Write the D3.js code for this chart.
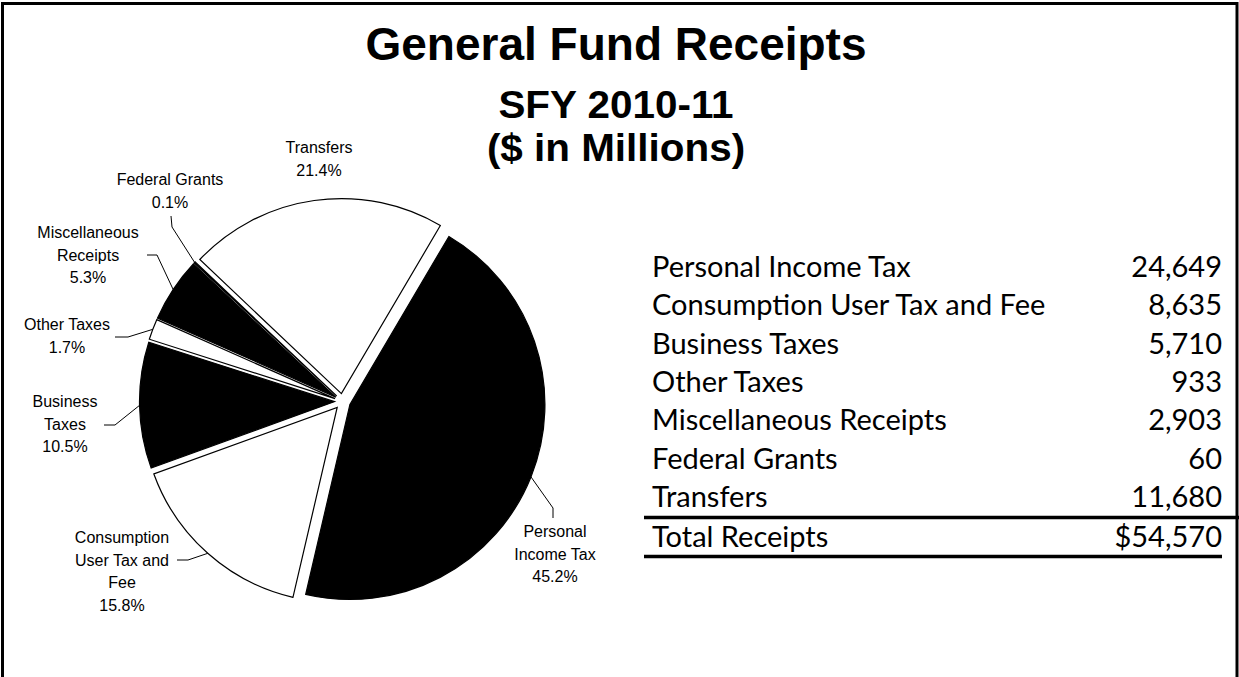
<!DOCTYPE html>
<html>
<head>
<meta charset="utf-8">
<script src="https://cdn.jsdelivr.net/npm/d3@7"></script>
<style>
  html, body { margin: 0; padding: 0; background: #fff; }
  svg { display: block; }
</style>
</head>
<body>
<svg id="chart" width="1239" height="677"></svg>
<script>
// General Fund receipts by source, SFY 2010-11 ($ millions)
const categories = [
  "Personal Income Tax",
  "Consumption User Tax and Fee",
  "Business Taxes",
  "Other Taxes",
  "Miscellaneous Receipts",
  "Federal Grants",
  "Transfers"
];
const values = [24649, 8635, 5710, 933, 2903, 60, 11680];
// Wrapped pie label text for each category
const pieLabelLines = [
  ["Personal", "Income Tax"],
  ["Consumption", "User Tax and", "Fee"],
  ["Business", "Taxes"],
  ["Other Taxes"],
  ["Miscellaneous", "Receipts"],
  ["Federal Grants"],
  ["Transfers"]
];
const sliceFills = ["#000", "#fff", "#000", "#fff", "#000", "#000", "#fff"];
const titleLines = ["General Fund Receipts", "SFY 2010-11", "($ in Millions)"];
const totalLabel = "Total Receipts";

// Label placement: text centre x, first line centre y, and leader elbow/end points
const labelLayout = [
  { x: 555, y: 532, leader: [[553, 508], [553, 518]] },
  { x: 122, y: 538, leader: [[188, 560], [177, 560]] },
  { x: 65,  y: 402, leader: [[115, 425], [104, 425]] },
  { x: 67,  y: 325, leader: [[128, 337], [115, 337]] },
  { x: 88,  y: 233, leader: [[157, 255], [147, 255]] },
  { x: 170, y: 180, leader: [[172, 227], [171, 216]] },
  { x: 319, y: 148, leader: null }
];

const svg = d3.select("#chart");
const W = 1239, H = 677;

// outer frame
svg.append("rect")
  .attr("x", 2.5).attr("y", 3.5)
  .attr("width", W - 4.5).attr("height", H + 20)
  .attr("fill", "none").attr("stroke", "#000").attr("stroke-width", 3);

// titles
const titleFont = "'Liberation Sans', Arial, sans-serif";
const titleSpecs = [
  { size: 46, base: 60, sx: 1 },
  { size: 38.5, base: 118, sx: 1.05 },
  { size: 38.5, base: 161, sx: 1.05 }
];
titleLines.forEach((s, i) => {
  const sp = titleSpecs[i];
  svg.append("text")
    .attr("transform", `translate(616,${sp.base}) scale(${sp.sx},1)`)
    .attr("text-anchor", "middle").attr("font-family", titleFont)
    .attr("font-weight", "bold").attr("font-size", sp.size)
    .text(s);
});

// pie
const total = d3.sum(values);
const data = categories.map((c, i) => ({ name: c, value: values[i], i }));
const deg = Math.PI / 180;
const startA = 30.5 * deg;
const pie = d3.pie().sort(null).value(d => d.value)
  .startAngle(startA).endAngle(startA + 2 * Math.PI);
const R = 195;
const explode = 8;
const cx = 342.5, cy = 401.5;
const arc = d3.arc().innerRadius(0).outerRadius(R);
const arcs = pie(data);

const g = svg.append("g").attr("transform", `translate(${cx},${cy})`);

function offsetOf(a) {
  const m = (a.startAngle + a.endAngle) / 2;
  return [explode * Math.sin(m), -explode * Math.cos(m)];
}

g.selectAll("path.slice").data(arcs).join("path")
  .attr("class", "slice")
  .attr("transform", d => { const o = offsetOf(d); return `translate(${o[0]},${o[1]})`; })
  .attr("d", arc)
  .attr("fill", d => sliceFills[d.data.i])
  .attr("stroke", "#000").attr("stroke-width", 1.2)
  .attr("stroke-linejoin", "miter");

// leader lines and labels
const pct = d3.format(".1%");
const labelFont = "'Liberation Sans', Arial, sans-serif";
const fs = 16, lh = 22.4;

arcs.forEach(a => {
  const i = a.data.i;
  const L = labelLayout[i];
  const m = (a.startAngle + a.endAngle) / 2;
  const o = offsetOf(a);
  if (L.leader) {
    const p0 = [cx + o[0] + R * Math.sin(m), cy + o[1] - R * Math.cos(m)];
    const pts = [p0].concat(L.leader);
    svg.append("path")
      .attr("d", d3.line()(pts))
      .attr("fill", "none").attr("stroke", "#000").attr("stroke-width", 1);
  }
  const lines = pieLabelLines[i].concat([pct(a.data.value / total)]);
  const t = svg.append("text")
    .attr("text-anchor", "middle")
    .attr("font-family", labelFont).attr("font-size", fs).attr("fill", "#000");
  lines.forEach((s, k) => {
    t.append("tspan").attr("x", L.x).attr("y", L.y + k * lh + fs * 0.34).text(s);
  });
});

// summary table
const tableFont = "Lato, 'Open Sans', sans-serif";
const tfs = 29;
const rowBase = d3.scalePoint().domain(d3.range(categories.length)).range([277, 507]);
const xLeft = 652, xRight = 1222;
const num = d3.format(",");

const tbl = svg.append("g").attr("font-family", tableFont).attr("font-size", tfs);
categories.forEach((c, i) => {
  const y = rowBase(i);
  tbl.append("text").attr("x", xLeft).attr("y", y).text(c);
  tbl.append("text").attr("x", xRight).attr("y", y).attr("text-anchor", "end").text(num(values[i]));
});
const totalBase = 546.5;
tbl.append("text").attr("x", xLeft).attr("y", totalBase).text(totalLabel);
tbl.append("text").attr("x", xRight).attr("y", totalBase).attr("text-anchor", "end").text("$" + num(total));

svg.append("line").attr("x1", 644).attr("x2", 1239).attr("y1", 517.5).attr("y2", 517.5)
  .attr("stroke", "#000").attr("stroke-width", 3.5);
svg.append("line").attr("x1", 644).attr("x2", 1222).attr("y1", 556.5).attr("y2", 556.5)
  .attr("stroke", "#000").attr("stroke-width", 3.5);
</script>
</body>
</html>
